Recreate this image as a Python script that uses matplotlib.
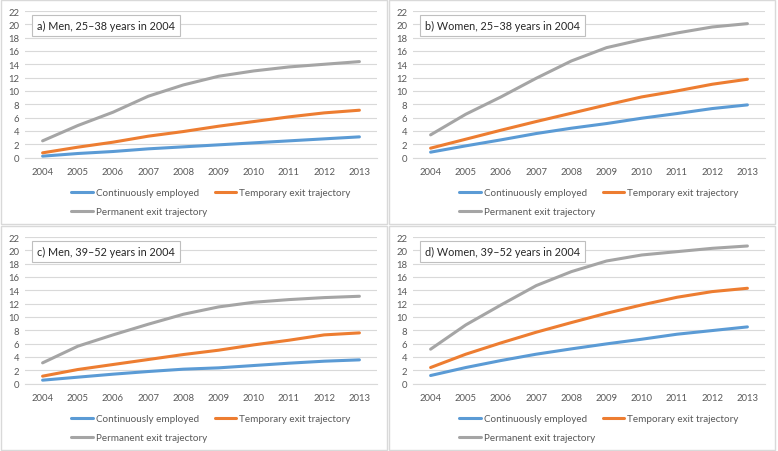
import matplotlib.pyplot as plt
from matplotlib.patches import Rectangle

plt.rcParams['font.family'] = ['Lato', 'DejaVu Sans']

years = ['2004', '2005', '2006', '2007', '2008', '2009', '2010', '2011', '2012', '2013']
series_names = ['Continuously employed', 'Temporary exit trajectory', 'Permanent exit trajectory']
colors = ['#5B9BD5', '#ED7D31', '#A5A5A5']

titles = ['a) Men, 25\u201338 years in 2004', 'b) Women, 25\u201338 years in 2004',
          'c) Men, 39\u201352 years in 2004', 'd) Women, 39\u201352 years in 2004']

men_young_cont = [0.2, 0.6, 0.9, 1.3, 1.6, 1.9, 2.2, 2.5, 2.8, 3.1]
men_young_temp = [0.7, 1.55, 2.3, 3.2, 3.9, 4.7, 5.4, 6.1, 6.7, 7.1]
men_young_perm = [2.5, 4.8, 6.8, 9.2, 10.9, 12.2, 13.0, 13.6, 14.0, 14.4]

women_young_cont = [0.8, 1.75, 2.65, 3.6, 4.4, 5.1, 5.9, 6.6, 7.35, 7.9]
women_young_temp = [1.4, 2.75, 4.1, 5.4, 6.65, 7.9, 9.1, 10.0, 11.0, 11.75]
women_young_perm = [3.4, 6.5, 9.1, 11.9, 14.5, 16.5, 17.7, 18.7, 19.6, 20.1]

men_old_cont = [0.5, 0.95, 1.4, 1.8, 2.15, 2.35, 2.7, 3.05, 3.35, 3.55]
men_old_temp = [1.1, 2.1, 2.85, 3.6, 4.35, 5.0, 5.8, 6.5, 7.3, 7.6]
men_old_perm = [3.1, 5.6, 7.3, 8.9, 10.4, 11.5, 12.2, 12.6, 12.9, 13.1]

women_old_cont = [1.2, 2.4, 3.45, 4.4, 5.2, 5.95, 6.65, 7.4, 7.95, 8.5]
women_old_temp = [2.4, 4.4, 6.1, 7.7, 9.15, 10.55, 11.8, 12.95, 13.8, 14.3]
women_old_perm = [5.15, 8.8, 11.8, 14.7, 16.8, 18.4, 19.3, 19.8, 20.3, 20.65]

panels = [
    (men_young_cont, men_young_temp, men_young_perm),
    (women_young_cont, women_young_temp, women_young_perm),
    (men_old_cont, men_old_temp, men_old_perm),
    (women_old_cont, women_old_temp, women_old_perm),
]

W, H = 778, 452
fig = plt.figure(figsize=(W / 100, H / 100), dpi=100)

def fx(x):
    return x / W

def fy(y):
    return 1 - y / H

# panel top-left corners in pixels
origins = [(1, 1), (389, 1), (1, 227), (389, 227)]
pw, ph = 386, 224
border = '#D9D9D9'

for i, (ox, oy) in enumerate(origins):
    fig.patches.append(Rectangle((fx(ox), fy(oy + ph)), pw / W, ph / H,
                                 transform=fig.transFigure, fill=False,
                                 edgecolor=border, linewidth=1.0))

    left, right = ox + 24, ox + 376
    top, bottom = oy + 11, oy + 157.5
    ax = fig.add_axes([fx(left), fy(bottom), (right - left) / W, (bottom - top) / H])

    x = range(len(years))
    lines = []
    for vals, name, c in zip(panels[i], series_names, colors):
        ln, = ax.plot(x, vals, color=c, linewidth=2.2, label=name,
                      solid_capstyle='round')
        lines.append(ln)

    ax.set_xlim(-0.5, 9.5)
    ax.set_ylim(0, 22)
    ax.set_yticks(range(0, 23, 2))
    ax.set_xticks(list(x))
    ax.set_xticklabels(years)
    ax.grid(axis='y', color='#D9D9D9', linewidth=0.8)
    ax.set_axisbelow(True)
    for s in ['top', 'right', 'left']:
        ax.spines[s].set_visible(False)
    ax.spines['bottom'].set_color('#D9D9D9')
    ax.tick_params(axis='both', length=0, labelsize=6.8, colors='#595959')
    ax.tick_params(axis='x', pad=7)
    ax.tick_params(axis='y', pad=4)

    ax.text(0.035, 0.9, titles[i], transform=ax.transAxes, fontsize=7.8,
            color='#262626', va='center', ha='left',
            bbox=dict(boxstyle='square,pad=0.45', facecolor='white',
                      edgecolor='#BFBFBF', linewidth=0.8))

    # legend: Continuously / Permanent in first column, Temporary in second
    order = [lines[0], lines[2], lines[1]]
    fig.legend(order, [l.get_label() for l in order], ncol=2,
               loc='upper left', bbox_to_anchor=(fx(ox + 70), fy(oy + 188)),
               frameon=False, fontsize=7.1, handlelength=2.2,
               handletextpad=0.3, columnspacing=0.8, labelspacing=1.05,
               borderpad=0, borderaxespad=0, labelcolor='#595959')

fig.savefig('out.png', dpi=100)
